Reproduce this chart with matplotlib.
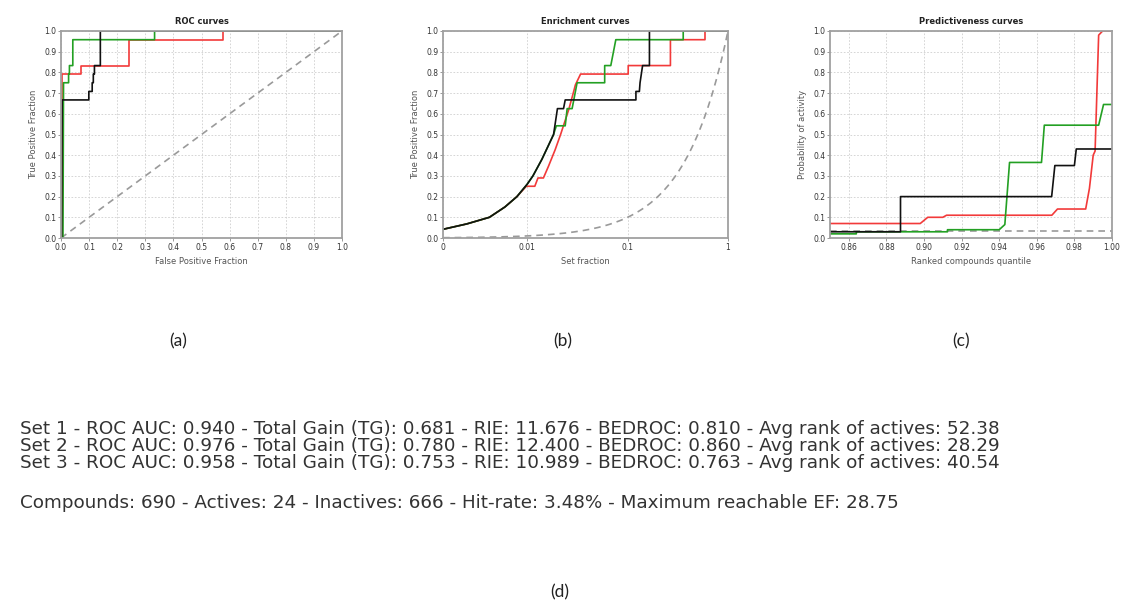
import numpy as np
import matplotlib
matplotlib.use("Agg")
import matplotlib.pyplot as plt
from matplotlib.ticker import FixedLocator, FixedFormatter

# ---- ROC curves (corner points) ----
roc_fpr_1 = [0.0, 0.004, 0.004, 0.071, 0.071, 0.242, 0.242, 0.575, 0.575, 1.0]
roc_tpr_1 = [0.0, 0.0, 0.792, 0.792, 0.833, 0.833, 0.958, 0.958, 1.0, 1.0]
roc_fpr_2 = [0.0, 0.007, 0.009, 0.027, 0.027, 0.030, 0.030, 0.042, 0.042, 0.333, 0.333, 1.0]
roc_tpr_2 = [0.0, 0.0, 0.75, 0.75, 0.792, 0.792, 0.833, 0.833, 0.958, 0.958, 1.0, 1.0]
roc_fpr_3 = [0.0, 0.002, 0.004, 0.099, 0.099, 0.111, 0.111, 0.115, 0.115, 0.119, 0.119, 0.140, 0.140, 1.0]
roc_tpr_3 = [0.0, 0.0, 0.667, 0.667, 0.708, 0.708, 0.75, 0.75, 0.792, 0.792, 0.833, 0.833, 1.0, 1.0]

# ---- Enrichment curves ----
enr_x_1 = [0.00145, 0.0025, 0.0042, 0.0060, 0.0079, 0.0098, 0.0119, 0.0128, 0.0145,
           0.0163, 0.0190, 0.0215, 0.0259, 0.0290, 0.0302, 0.0340, 0.1014, 0.1014,
           0.267, 0.267, 0.59, 0.59, 1.0]
enr_y_1 = [0.042, 0.068, 0.10, 0.15, 0.20, 0.25, 0.25, 0.29, 0.29,
           0.347, 0.427, 0.50, 0.62, 0.707, 0.74, 0.792, 0.792, 0.833,
           0.833, 0.958, 0.958, 1.0, 1.0]
enr_x_2 = [0.00145, 0.0025, 0.0042, 0.0060, 0.0079, 0.0100, 0.0114, 0.0140, 0.0183, 0.0195,
           0.0239, 0.0250, 0.0280, 0.0314, 0.0591, 0.0591, 0.0680, 0.0763, 0.358,
           0.358, 1.0]
enr_y_2 = [0.042, 0.068, 0.10, 0.15, 0.20, 0.26, 0.30, 0.38, 0.50, 0.542,
           0.542, 0.625, 0.625, 0.75, 0.75, 0.833, 0.833, 0.958, 0.958,
           1.0, 1.0]
enr_x_3 = [0.00145, 0.0025, 0.0042, 0.0060, 0.0079, 0.0100, 0.0114, 0.0140, 0.0183, 0.0200,
           0.0230, 0.0239, 0.121, 0.121, 0.131, 0.133, 0.141, 0.165, 0.165, 1.0]
enr_y_3 = [0.042, 0.068, 0.10, 0.15, 0.20, 0.26, 0.30, 0.38, 0.50, 0.625,
           0.625, 0.667, 0.667, 0.708, 0.708, 0.75, 0.833, 0.833, 1.0, 1.0]

# ---- Predictiveness curves ----
pred_x_1 = [0.85, 0.898, 0.902, 0.910, 0.912, 0.968, 0.971, 0.986, 0.988, 0.990, 0.991,
            0.9929, 0.995, 1.0]
pred_y_1 = [0.07, 0.07, 0.10, 0.10, 0.11, 0.11, 0.14, 0.14, 0.24, 0.40, 0.42,
            0.98, 1.0, 1.0]
pred_x_2 = [0.85, 0.864, 0.864, 0.9125, 0.9125, 0.940, 0.943, 0.9455, 0.9625, 0.964,
            0.9929, 0.9955, 1.0]
pred_y_2 = [0.02, 0.02, 0.03, 0.03, 0.04, 0.04, 0.065, 0.365, 0.365, 0.545,
            0.545, 0.645, 0.645]
pred_x_3 = [0.85, 0.8875, 0.8875, 0.9679, 0.9696, 0.980, 0.981, 1.0]
pred_y_3 = [0.03, 0.03, 0.20, 0.20, 0.35, 0.35, 0.43, 0.43]

n_compounds = 690
hit_rate = 24 / 690

stat_lines = [
    "Set 1 - ROC AUC: 0.940 - Total Gain (TG): 0.681 - RIE: 11.676 - BEDROC: 0.810 - Avg rank of actives: 52.38",
    "Set 2 - ROC AUC: 0.976 - Total Gain (TG): 0.780 - RIE: 12.400 - BEDROC: 0.860 - Avg rank of actives: 28.29",
    "Set 3 - ROC AUC: 0.958 - Total Gain (TG): 0.753 - RIE: 10.989 - BEDROC: 0.763 - Avg rank of actives: 40.54",
]
summary_line = "Compounds: 690 - Actives: 24 - Inactives: 666 - Hit-rate: 3.48% - Maximum reachable EF: 28.75"

RED = "#f23a3a"
GREEN = "#23a023"
BLACK = "#111111"
GREY = "#9a9a9a"
NARROW = ["Liberation Sans Narrow", "DejaVu Sans"]
TEXT_FONT = ["DejaVu Sans"]

W, H = 1123, 603
fig = plt.figure(figsize=(W / 100, H / 100), dpi=100)


def px_axes(x0, y0, x1, y1):
    return fig.add_axes([x0 / W, 1 - y1 / H, (x1 - x0) / W, (y1 - y0) / H])


def style_axes(ax, title, xlabel, ylabel):
    for sp in ax.spines.values():
        sp.set_color("#a0a0a0")
        sp.set_linewidth(1.3)
    ax.tick_params(length=2, width=0.6, color="#888888", labelsize=5.5,
                   labelcolor="#333333", pad=1.5)
    ax.grid(True, color="#cfcfcf", linestyle=(0, (2, 2)), linewidth=0.6)
    ax.set_axisbelow(True)
    ax.set_title(title, fontsize=6, fontweight="bold", color="#222222", pad=5)
    ax.set_xlabel(xlabel, fontsize=6, color="#555555", labelpad=4, family=NARROW)
    ax.set_ylabel(ylabel, fontsize=6, color="#555555", labelpad=4, family=NARROW)
    ax.set_ylim(0, 1)
    ax.set_yticks(np.arange(0, 1.01, 0.1))
    ax.set_yticklabels([f"{v:.1f}" for v in np.arange(0, 1.01, 0.1)])


# (a) ROC
ax1 = px_axes(61, 31, 342, 238)
ax1.plot([0, 1], [0, 1], color=GREY, linestyle=(0, (4, 3)), linewidth=1.2)
ax1.plot(roc_fpr_1, roc_tpr_1, color=RED, linewidth=1.2)
ax1.plot(roc_fpr_2, roc_tpr_2, color=GREEN, linewidth=1.2)
ax1.plot(roc_fpr_3, roc_tpr_3, color=BLACK, linewidth=1.2)
ax1.set_xlim(0, 1)
ax1.set_xticks(np.arange(0, 1.01, 0.1))
ax1.set_xticklabels([f"{v:.1f}" for v in np.arange(0, 1.01, 0.1)])
style_axes(ax1, "ROC curves", "False Positive Fraction", "True Positive Fraction")

# (b) Enrichment
ax2 = px_axes(443, 31, 728, 238)
rand_x = np.geomspace(1 / n_compounds, 1, 200)
ax2.plot(rand_x, rand_x, color=GREY, linestyle=(0, (4, 3)), linewidth=1.2)
ax2.plot(enr_x_1, enr_y_1, color=RED, linewidth=1.2)
ax2.plot(enr_x_2, enr_y_2, color=GREEN, linewidth=1.2)
ax2.plot(enr_x_3, enr_y_3, color=BLACK, linewidth=1.2)
ax2.set_xscale("log")
ax2.set_xlim(1 / n_compounds, 1)
ax2.xaxis.set_major_locator(FixedLocator([1 / n_compounds, 0.01, 0.1, 1]))
ax2.xaxis.set_major_formatter(FixedFormatter(["0", "0.01", "0.1", "1"]))
ax2.xaxis.set_minor_locator(FixedLocator([]))
style_axes(ax2, "Enrichment curves", "Set fraction", "True Positive Fraction")

# (c) Predictiveness
ax3 = px_axes(830, 31, 1112, 238)
ax3.axhline(hit_rate, color=GREY, linestyle=(0, (4, 3)), linewidth=1.2)
ax3.plot(pred_x_1, pred_y_1, color=RED, linewidth=1.2)
ax3.plot(pred_x_2, pred_y_2, color=GREEN, linewidth=1.2)
ax3.plot(pred_x_3, pred_y_3, color=BLACK, linewidth=1.2)
ax3.set_xlim(0.85, 1.0)
ax3.set_xticks(np.arange(0.86, 1.001, 0.02))
ax3.set_xticklabels([f"{v:.2f}" for v in np.arange(0.86, 1.001, 0.02)])
style_axes(ax3, "Predictiveness curves", "Ranked compounds quantile", "Probability of activity")

# panel labels
for lbl, xc in [("(a)", 178), ("(b)", 563), ("(c)", 961)]:
    fig.text(xc / W, 1 - 341 / H, lbl, fontsize=12.5, family=["Lato", "DejaVu Sans"],
             ha="center", va="center", color="#222222")
fig.text(560 / W, 1 - 592 / H, "(d)", fontsize=12.5, family=["Lato", "DejaVu Sans"],
         ha="center", va="center", color="#222222")

# statistics text
for line, yc in zip(stat_lines, [426.7, 443.8, 460.5]):
    fig.text(20 / W, 1 - yc / H, line, fontsize=13.2, family=TEXT_FONT,
             ha="left", va="center_baseline", color="#333333")
fig.text(20 / W, 1 - 501 / H, summary_line, fontsize=13.2,
         family=TEXT_FONT, ha="left", va="center_baseline", color="#333333")

fig.savefig("out.png", dpi=100)
